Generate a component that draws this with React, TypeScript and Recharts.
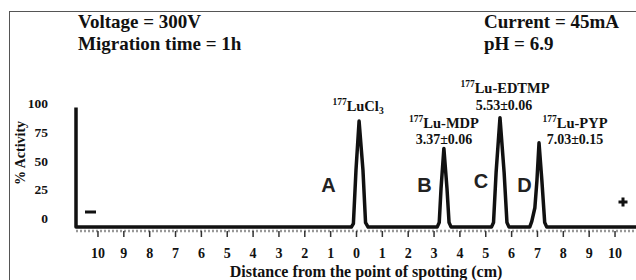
import { LineChart, Line, XAxis, YAxis } from 'recharts'

// densitometer trace (distance in cm, activity in %)
const TRACE_DISTANCE = [
  -10.85, -10.85,
  -0.2, -0.12, -0.02, 0.1, 0.25, 0.35, 0.45,
  3.12, 3.2, 3.27, 3.38, 3.5, 3.58, 3.66,
  5.22, 5.3, 5.4, 5.55, 5.71, 5.82, 5.9,
  6.7, 6.78, 6.9, 6.98, 7.06, 7.17, 7.28, 7.36,
  10.85,
]
const TRACE_ACTIVITY = [
  97, -8,
  -8, -5, 42, 85, 42, -4, -8,
  -8, -4, 26, 61, 26, -4, -8,
  -8, -4, 40, 88, 40, -4, -8,
  -8, -3, 9, 33, 66, 33, -4, -8,
  -8,
]

const X_TICKS = [-10, -9, -8, -7, -6, -5, -4, -3, -2, -1, 0, 1, 2, 3, 4, 5, 6, 7, 8, 9, 10]
const Y_TICKS = [0, 25, 50, 75, 100]

const PEAK_LETTERS = ['A', 'B', 'C', 'D']
const PEAK_NAMES = ['LuCl', 'Lu-MDP', 'Lu-EDTMP', 'Lu-PYP']
const PEAK_RF = ['', '3.37±0.06', '5.53±0.06', '7.03±0.15']

const data = TRACE_DISTANCE.map((d, i) => ({ d, a: TRACE_ACTIVITY[i] }))

const SERIF = '"Liberation Serif", "Times New Roman", serif'
const SANS = '"Liberation Sans", Arial, sans-serif'

// where each label sits on the page (center x, baseline y)
const LETTER_POS = [[328.5, 192], [424.5, 192], [481, 188], [524.5, 192]]
const NAME_POS = [[358, 111], [444, 128], [505, 93], [575, 128]]
const RF_POS = [[0, 0], [444, 144], [504, 110], [575, 144]]

const XTick = ({ x, payload }: any) => (
  <text x={x} y={258} textAnchor="middle" fontFamily={SERIF} fontWeight="bold" fontSize={14} fill="#111">
    {Math.abs(payload.value)}
  </text>
)

const YTick = ({ y, payload }: any) => (
  <text x={48} y={y + 4.5} textAnchor="end" fontFamily={SERIF} fontWeight="bold" fontSize={13.5} fill="#111">
    {payload.value}
  </text>
)

export default function App() {
  return (
    <div style={{ position: 'absolute', left: 0, top: 0, width: 636, height: 280, overflow: 'hidden', background: '#fff' }}>
      <div style={{ position: 'absolute', left: 9, top: 11, width: 700, height: 300, borderLeft: '1.5px solid #555', borderTop: '1.5px solid #555' }} />
      <div style={{ position: 'absolute', left: 0, top: 0 }}>
        <LineChart width={640} height={280} data={data} margin={{ top: 91, right: 3, bottom: 0, left: 0 }}>
          <XAxis
            type="number"
            dataKey="d"
            domain={[-10.85, 10.85]}
            ticks={X_TICKS}
            interval={0}
            height={49}
            tick={<XTick />}
            tickSize={6}
            tickLine={{ stroke: '#333', strokeWidth: 1.5 }}
            axisLine={{ stroke: '#999', strokeWidth: 2.5, strokeDasharray: '2 2' }}
          />
          <YAxis
            type="number"
            domain={[-11.4, 111.4]}
            ticks={Y_TICKS}
            width={76}
            axisLine={false}
            tickLine={false}
            tick={<YTick />}
          />
          <Line
            type="linear"
            dataKey="a"
            stroke="#111"
            strokeWidth={3.5}
            strokeLinejoin="round"
            dot={false}
            isAnimationActive={false}
          />
        </LineChart>
      </div>
      <svg width={636} height={280} style={{ position: 'absolute', left: 0, top: 0, pointerEvents: 'none' }}>
        <g fontFamily={SERIF} fontWeight="bold" fill="#111">
          <text x={78} y={28} fontSize={19}>Voltage = 300V</text>
          <text x={78} y={50} fontSize={19}>Migration time = 1h</text>
          <text x={484} y={28} fontSize={19}>Current = 45mA</text>
          <text x={484} y={50} fontSize={19}>pH = 6.9</text>
          <text x={20} y={153} fontSize={14} textAnchor="middle" dominantBaseline="central" transform="rotate(-90 20 153)">% Activity</text>
          <text x={366} y={277} fontSize={16} textAnchor="middle">Distance from the point of spotting (cm)</text>
          {PEAK_NAMES.map((n, i) => (
            <text key={n} x={NAME_POS[i][0]} y={NAME_POS[i][1]} textAnchor="middle" fontSize={14.5}>
              <tspan fontSize={9.5} dy={-6}>177</tspan>
              <tspan dy={6}>{n}</tspan>
              {i === 0 && <tspan fontSize={9.5} dy={3}>3</tspan>}
            </text>
          ))}
          {PEAK_RF.map((r, i) => r && (
            <text key={r} x={RF_POS[i][0]} y={RF_POS[i][1]} textAnchor="middle" fontSize={14}>{r}</text>
          ))}
        </g>
        <g fontFamily={SANS} fontWeight="bold" fill="#222" fontSize={20}>
          {PEAK_LETTERS.map((l, i) => (
            <text key={l} x={LETTER_POS[i][0]} y={LETTER_POS[i][1]} textAnchor="middle">{l}</text>
          ))}
        </g>
        <rect x={85} y={210.5} width={11} height={3} fill="#111" />
        <rect x={618.5} y={200.5} width={9} height={3} fill="#111" />
        <rect x={621.5} y={197.5} width={3} height={9} fill="#111" />
      </svg>
    </div>
  )
}
